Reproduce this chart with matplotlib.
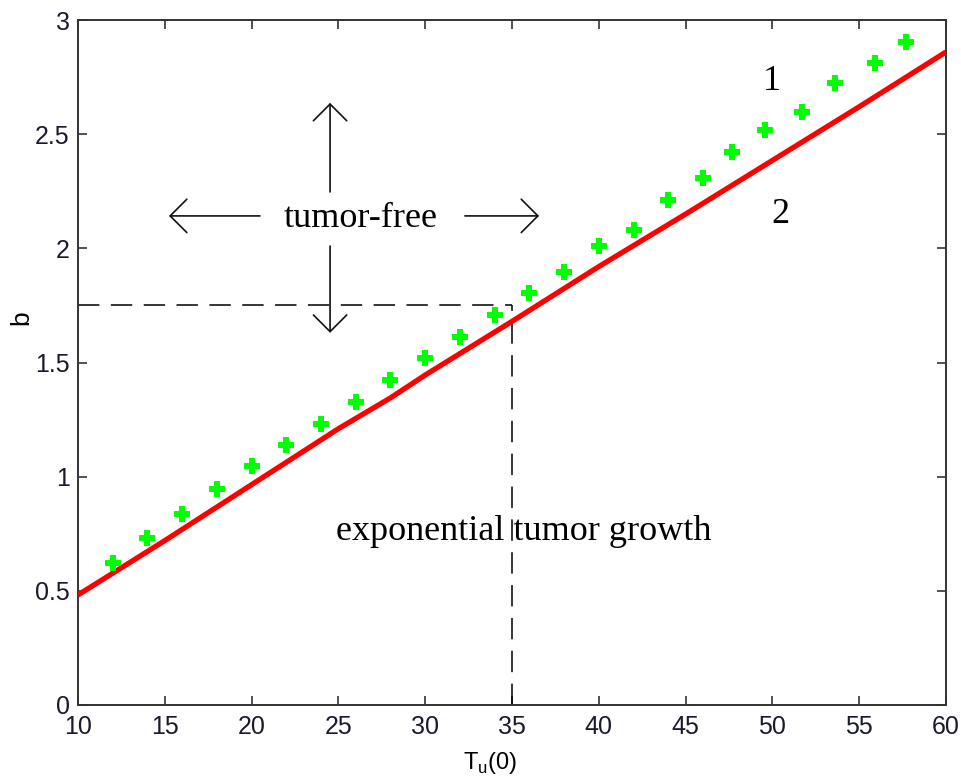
import matplotlib
matplotlib.use("Agg")
import matplotlib.pyplot as plt

# Curve 1 (green markers)
x_markers = [12, 14, 16, 18, 20, 22, 24, 26, 28, 30, 32, 34, 36, 38, 40, 42,
             44, 46, 47.7, 49.6, 51.7, 53.6, 55.9, 57.7]
y_markers = [0.622, 0.731, 0.837, 0.946, 1.048, 1.139, 1.231, 1.327, 1.424,
             1.520, 1.612, 1.706, 1.805, 1.897, 2.011, 2.081, 2.212, 2.308,
             2.422, 2.519, 2.597, 2.724, 2.812, 2.904]

# Curve 2 (red line)
x_line = [10, 15, 20, 25, 28, 30, 35, 40, 45, 50, 55, 60]
y_line = [0.482, 0.72, 0.965, 1.21, 1.345, 1.445, 1.68, 1.92, 2.15, 2.385, 2.62, 2.86]

# Threshold
x_thr = 35
y_thr = 1.75

xticks = [10, 15, 20, 25, 30, 35, 40, 45, 50, 55, 60]
yticks = [0, 0.5, 1, 1.5, 2, 2.5, 3]
ytick_labels = ["0", "0.5", "1", "1.5", "2", "2.5", "3"]

fig = plt.figure(figsize=(9.61, 7.82), dpi=100)
ax = fig.add_axes([78 / 961, 77 / 782, 868 / 961, 685 / 782])

ax.plot(x_line, y_line, color="#ff0000", lw=3.8, solid_capstyle="butt", zorder=3)
ax.plot(x_markers, y_markers, linestyle="none", marker="P", markersize=12,
        color="#00ff00", markeredgewidth=0, zorder=4)

dash_kw = dict(color="black", lw=1.1, dashes=(14, 7.5))
ax.plot([10, x_thr], [y_thr, y_thr], **dash_kw)
ax.plot([x_thr, x_thr], [0, y_thr], **dash_kw)

arrow_props = dict(arrowstyle="->,head_length=0.6,head_width=0.6",
                   color="#111111", lw=1.2, mutation_scale=20,
                   shrinkA=0, shrinkB=0)
cx, cy = 24.52, 2.142
ax.annotate("", xy=(cx, 2.637), xytext=(cx, 2.247), arrowprops=arrow_props)
ax.annotate("", xy=(cx, 1.63), xytext=(cx, 2.01), arrowprops=arrow_props)
ax.annotate("", xy=(15.24, cy), xytext=(20.48, cy), arrowprops=arrow_props)
ax.annotate("", xy=(36.56, cy), xytext=(32.29, cy), arrowprops=arrow_props)

serif = "Liberation Serif"
ax.text(26.3, 2.094, "tumor-free", fontsize=26, family=serif,
        ha="center", va="baseline")
ax.text(35.66, 0.723, "exponential tumor growth", fontsize=26, family=serif,
        ha="center", va="baseline")
ax.text(49.98, 2.694, "1", fontsize=26, family=serif, ha="center", va="baseline")
ax.text(50.46, 2.111, "2", fontsize=26, family=serif, ha="center", va="baseline")

ax.set_xlim(10, 60)
ax.set_ylim(0, 3)
ax.set_xticks(xticks)
ax.set_xticklabels([str(t) for t in xticks])
ax.set_yticks(yticks)
ax.set_yticklabels(ytick_labels)

sans = "Liberation Sans"
for lab in ax.get_xticklabels() + ax.get_yticklabels():
    lab.set_fontfamily(sans)
    lab.set_fontsize(18)
    lab.set_color("#1a1a2e")
ax.tick_params(direction="in", length=6.5, width=1.2, top=True, right=True,
               color="#333333")
ax.tick_params(axis="x", pad=7)
ax.tick_params(axis="y", pad=6)
for s in ax.spines.values():
    s.set_color("#333333")
    s.set_linewidth(1.4)

ax.set_xlabel(r"T$_\mathregular{u}$(0)", fontsize=17, family=sans)
ax.xaxis.set_label_coords(0.4747, -0.066)
ax.set_ylabel("b", fontsize=19, family=sans)
ax.yaxis.set_label_coords(-0.052, 0.565)

fig.savefig("out.png", dpi=100)
